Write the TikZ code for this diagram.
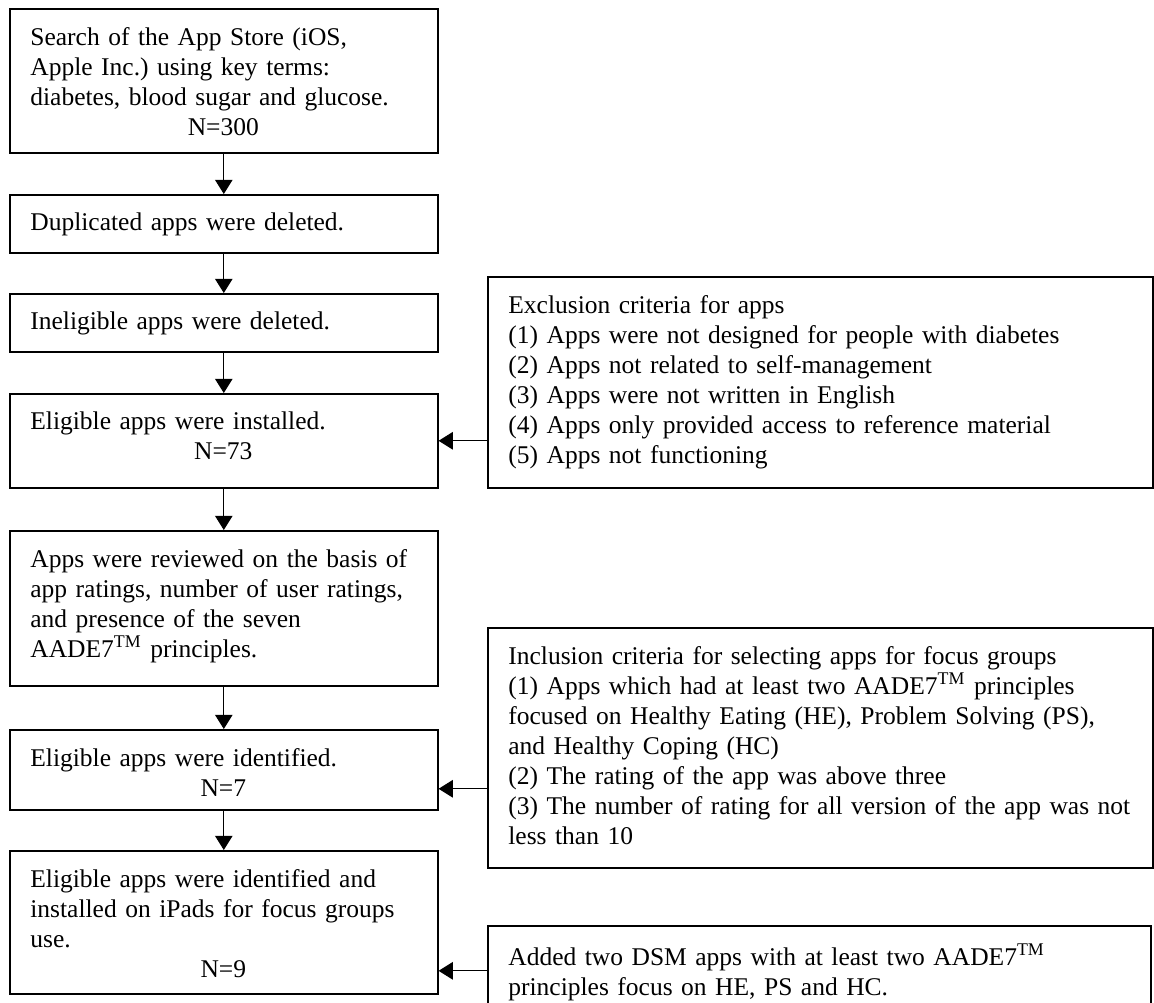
\documentclass[tikz,border=0pt]{standalone}
\usepackage{fontspec}
\setmainfont{Liberation Serif}
\usepackage{tikz}
\usetikzlibrary{positioning,arrows.meta}
\tikzstyle{stage} = [draw, line width=0.75pt, anchor=north west, inner sep=0pt, minimum width=196.3pt]
\tikzstyle{crit} = [draw, line width=0.75pt, anchor=north west, inner sep=0pt, minimum width=305pt]
\tikzstyle{txt} = [anchor=north west, inner xsep=9.6pt, inner ysep=8.6pt, align=left, font=\fontsize{11.7pt}{13.8pt}\selectfont\frenchspacing]
\tikzstyle{line} = [draw, line width=0.5pt, -{Triangle[length=6.5pt,width=8pt]}]
\newcommand{\nline}[1]{\makebox[177pt]{#1}}

\begin{document}
\begin{tikzpicture}[x=0.4587pt, y=-0.4587pt]
    \useasboundingbox (0,0) rectangle (1154,1003);

    % left column
    \node[stage, minimum height=66.05pt] (search) at (9,8) {};
    \node[txt, text width=200pt] (searchtxt) at (search.north west) {Search of the App Store (iOS,\\ Apple Inc.) using key terms:\\ diabetes, blood sugar and glucose.\\ \nline{N=300}};

    \node[stage, minimum height=26.6pt] (dupl) at (9,194) {};
    \node[txt, text width=200pt] (dupltxt) at (dupl.north west) {Duplicated apps were deleted.};

    \node[stage, minimum height=26.6pt] (inelig) at (9,293) {};
    \node[txt, text width=200pt] (ineligtxt) at (inelig.north west) {Ineligible apps were deleted.};

    \node[stage, minimum height=43.1pt] (install) at (9,393) {};
    \node[txt, text width=200pt] (installtxt) at (install.north west) {Eligible apps were installed.\\ \nline{N=73}};

    \node[stage, minimum height=71.1pt] (review) at (9,530) {};
    \node[txt, text width=200pt] (reviewtxt) at (review.north west) {Apps were reviewed on the basis of\\ app ratings, number of user ratings,\\ and presence of the seven\\ AADE7\textsuperscript{TM} principles.};

    \node[stage, minimum height=36.7pt] (ident) at (9,729) {};
    \node[txt, text width=200pt] (identtxt) at (ident.north west) {Eligible apps were identified.\\ \nline{N=7}};

    \node[stage, minimum height=65.6pt] (ipads) at (9,850) {};
    \node[txt, text width=200pt] (ipadstxt) at (ipads.north west) {Eligible apps were identified and\\ installed on iPads for focus groups\\ use.\\ \nline{N=9}};

    % right column
    \node[crit, minimum height=96.8pt] (excl) at (487,276) {};
    \node[txt, text width=320pt] (excltxt) at (excl.north west) {Exclusion criteria for apps\\
        (1) Apps were not designed for people with diabetes\\
        (2) Apps not related to self-management\\
        (3) Apps were not written in English\\
        (4) Apps only provided access to reference material\\
        (5) Apps not functioning};

    \node[crit, minimum height=110.1pt] (incl) at (487,627) {};
    \node[txt, text width=320pt] (incltxt) at (incl.north west) {Inclusion criteria for selecting apps for focus groups\\
        (1) Apps which had at least two AADE7\textsuperscript{TM} principles\\
        focused on Healthy Eating (HE), Problem Solving (PS),\\
        and Healthy Coping (HC)\\
        (2) The rating of the app was above three\\
        (3) The number of rating for all version of the app was not\\
        less than 10};

    \node[crit, minimum width=304.1pt, minimum height=41.3pt] (dsm) at (487,925) {};
    \node[txt, text width=320pt] (dsmtxt) at (dsm.north west) {Added two DSM apps with at least two AADE7\textsuperscript{TM}\\
        principles focus on HE, PS and HC.};

    % arrows
    \path[line] (search) -- (dupl);
    \path[line] (dupl) -- (inelig);
    \path[line] (inelig) -- (install);
    \path[line] (install) -- (review);
    \path[line] (review) -- (ident);
    \path[line] (ident) -- (ipads);

    \path[line] (install.east -| excl.west) -- (install.east);
    \coordinate (identin) at ([yshift=-8.7pt]ident.east);
    \path[line] (identin -| incl.west) -- (identin);
    \path[line] (dsm.west) -- (dsm.west -| ipads.east);
\end{tikzpicture}
\end{document}
